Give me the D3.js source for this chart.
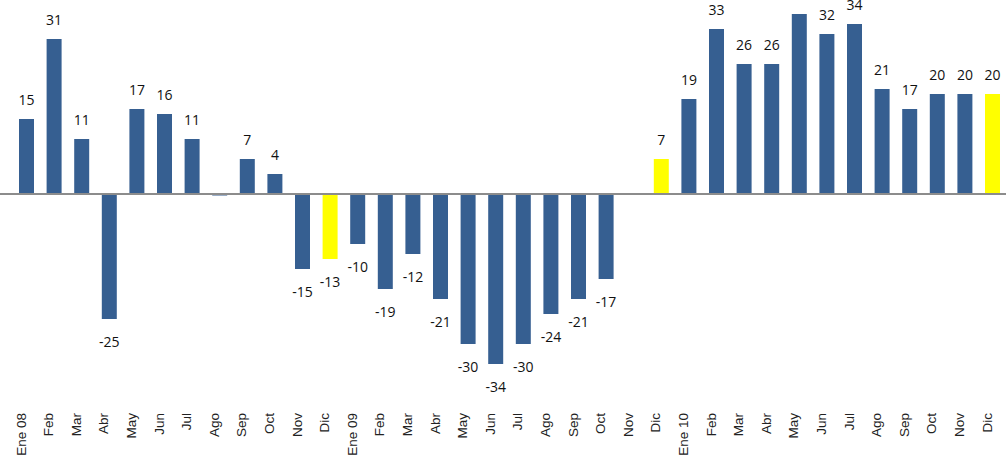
<!DOCTYPE html>
<html>
<head>
<meta charset="utf-8">
<script src="https://cdn.jsdelivr.net/npm/d3@7"></script>
<style>
  html, body { margin: 0; padding: 0; background: #fff; }
  svg { display: block; }
</style>
</head>
<body>
<div class="chart"></div>
<script>
// month labels along the bottom
const months = [
  "Ene 08", "Feb", "Mar", "Abr", "May", "Jun", "Jul", "Ago", "Sep", "Oct", "Nov", "Dic",
  "Ene 09", "Feb", "Mar", "Abr", "May", "Jun", "Jul", "Ago", "Sep", "Oct", "Nov", "Dic",
  "Ene 10", "Feb", "Mar", "Abr", "May", "Jun", "Jul", "Ago", "Sep", "Oct", "Nov", "Dic",
];
// values
const values = [
  15, 31, 11, -25, 17, 16, 11, -0.3, 7, 4, -15, -13,
  -10, -19, -12, -21, -30, -34, -30, -24, -21, -17, 0, 7,
  19, 33, 26, 26, 36, 32, 34, 21, 17, 20, 20, 20,
];
// bars drawn in yellow (December points)
const highlighted = [11, 23, 35];

const width = 1006;
const height = 461;

const svg = d3
  .select(".chart")
  .append("svg")
  .attr("width", width)
  .attr("height", height);

const x = d3
  .scaleBand()
  .domain(d3.range(months.length))
  .range([12.7, 1006.3])
  .paddingInner(0.457)
  .paddingOuter(0.2285);

const y = d3.scaleLinear().domain([-40, 38.8]).range([394, 0]);

// bars
svg
  .append("g")
  .selectAll("rect")
  .data(values)
  .join("rect")
  .attr("x", (d, i) => x(i))
  .attr("width", x.bandwidth())
  .attr("y", (d) => y(Math.max(0, d)))
  .attr("height", (d) => Math.abs(y(d) - y(0)))
  .attr("fill", (d, i) => (highlighted.includes(i) ? "#ffff00" : "#365f91"));

// zero line
svg
  .append("line")
  .attr("x1", 0)
  .attr("x2", width)
  .attr("y1", y(0))
  .attr("y2", y(0))
  .attr("stroke", "#8c8c8c")
  .attr("stroke-width", 2);

// value labels (zero values have no label)
const labelData = values
  .map((v, i) => ({ v, i }))
  .filter((d) => Math.round(d.v) !== 0);

svg
  .append("g")
  .selectAll("text")
  .data(labelData)
  .join("text")
  .attr("x", (d) => x(d.i) + x.bandwidth() / 2)
  .attr("y", (d) => (d.v > 0 ? y(d.v) - 14 : y(d.v) + 28))
  .attr("text-anchor", "middle")
  .attr("font-family", "'Open Sans', sans-serif")
  .attr("font-size", "14px")
  .attr("fill", "#111")
  .text((d) => Math.round(d.v));

// month labels, rotated
svg
  .append("g")
  .selectAll("text")
  .data(months)
  .join("text")
  .attr(
    "transform",
    (d, i) => `translate(${x(i) + x.bandwidth() / 2 - 1},413) rotate(-90)`
  )
  .attr("text-anchor", "end")
  .attr("font-family", "'Liberation Sans', Arial, sans-serif")
  .attr("font-size", "13.5px")
  .attr("fill", "#222")
  .text((d) => d);
</script>
</body>
</html>
